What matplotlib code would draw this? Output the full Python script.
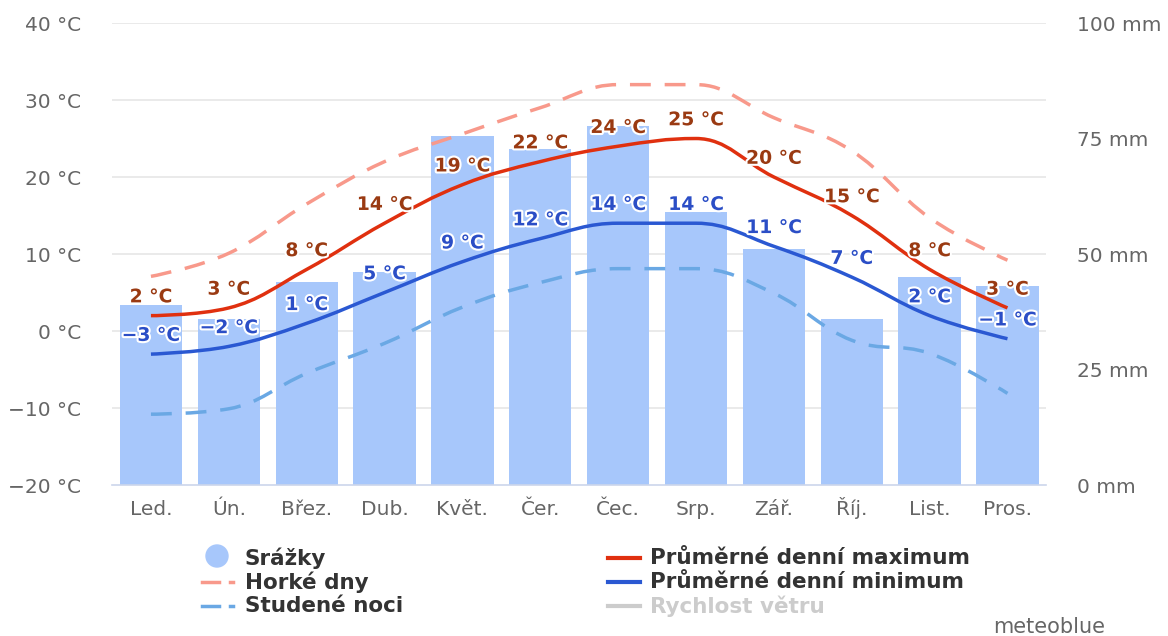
import numpy as np
import matplotlib
matplotlib.use("Agg")
import matplotlib.pyplot as plt
from matplotlib.path import Path
from matplotlib.patches import PathPatch, Ellipse
from matplotlib.lines import Line2D
import matplotlib.patheffects as pe

months = ["Led.", "Ún.", "Břez.", "Dub.", "Květ.", "Čer.", "Čec.", "Srp.", "Zář.", "Říj.", "List.", "Pros."]
precip_mm = [39, 36, 44, 46, 75.5, 72.7, 77.7, 59, 51, 36, 45, 43]
temp_max = [2, 3, 8, 14, 19, 22, 24, 25, 20, 15, 8, 3]
temp_min = [-3, -2, 1, 5, 9, 12, 14, 14, 11, 7, 2, -1]
hot_days = [7.1, 10.1, 16.5, 22.0, 25.6, 29.0, 32.0, 32.0, 27.7, 23.4, 14.7, 9.2]
cold_nights = [-10.8, -10.1, -5.5, -1.6, 3.1, 6.3, 8.1, 8.1, 4.9, -1.2, -2.9, -8.1]
temp_ticks = [-20, -10, 0, 10, 20, 30, 40]
mm_ticks = [0, 25, 50, 75, 100]

C_BAR = "#a7c7fb"
C_MAX = "#e0300f"
C_MIN = "#2a58d2"
C_HOT = "#f8998b"
C_COLD = "#6aa8e4"
C_MAXL = "#9a3a12"
C_MINL = "#2b4ec6"
C_TXT = "#666666"


def spline_path(xs, ys):
    xs = list(map(float, xs)); ys = list(map(float, ys))
    n = len(xs)
    left = [None] * n
    right = [None] * n
    for i in range(n):
        if i == 0 or i == n - 1:
            left[i] = (xs[i], ys[i]); right[i] = (xs[i], ys[i]); continue
        px, py = xs[i], ys[i]
        lx, ly = xs[i - 1], ys[i - 1]
        nx, ny = xs[i + 1], ys[i + 1]
        s, d = 1.5, 2.5
        lcx = (s * px + lx) / d; lcy = (s * py + ly) / d
        rcx = (s * px + nx) / d; rcy = (s * py + ny) / d
        if rcx != lcx:
            corr = ((rcy - lcy) * (rcx - px)) / (rcx - lcx) + py - rcy
            lcy += corr; rcy += corr
        if lcy > ly and lcy > py:
            lcy = max(ly, py); rcy = 2 * py - lcy
        elif lcy < ly and lcy < py:
            lcy = min(ly, py); rcy = 2 * py - lcy
        if rcy > ny and rcy > py:
            rcy = max(ny, py); lcy = 2 * py - rcy
        elif rcy < ny and rcy < py:
            rcy = min(ny, py); lcy = 2 * py - rcy
        left[i] = (lcx, lcy); right[i] = (rcx, rcy)
    verts = [(xs[0], ys[0])]
    codes = [Path.MOVETO]
    for i in range(1, n):
        verts += [right[i - 1], left[i], (xs[i], ys[i])]
        codes += [Path.CURVE4] * 3
    return Path(verts, codes)


fig = plt.figure(figsize=(11.68, 6.36), dpi=100)
ax = fig.add_axes([0.0959, 0.2374, 0.8, 0.7264])
axr = ax.twinx()
ax.set_zorder(2); ax.patch.set_visible(False)
axr.set_zorder(1)

x = np.arange(len(months))
axr.set_ylim(0, 100)
ax.set_ylim(-20, 40)
ax.set_xlim(-0.5, len(months) - 0.5)

# grid lines (temperature ticks) drawn behind bars
for t in temp_ticks[1:]:
    axr.axhline((t - temp_ticks[0]) / (temp_ticks[-1] - temp_ticks[0]) * 100, color="#e6e6e6", lw=1.2, zorder=0)

axr.bar(x, precip_mm, width=0.8, color=C_BAR, zorder=1)

ax.add_patch(PathPatch(spline_path(x, hot_days), fill=False, ec=C_HOT, lw=2.5, ls=(0, (6, 4)), zorder=3))
ax.add_patch(PathPatch(spline_path(x, cold_nights), fill=False, ec=C_COLD, lw=2.5, ls=(0, (6, 4)), zorder=3))
ax.add_patch(PathPatch(spline_path(x, temp_max), fill=False, ec=C_MAX, lw=2.5, zorder=4))
ax.add_patch(PathPatch(spline_path(x, temp_min), fill=False, ec=C_MIN, lw=2.5, zorder=4))

outline = [pe.withStroke(linewidth=3, foreground="white")]
for xi, v in zip(x, temp_max):
    ax.annotate(f"{v} °C".replace("-", "−"), (xi, v), xytext=(0, 13.5), textcoords="offset points",
                ha="center", va="center", color=C_MAXL, fontsize=13.5, fontweight="bold",
                path_effects=outline, zorder=6)
for xi, v in zip(x, temp_min):
    ax.annotate(f"{v} °C".replace("-", "−"), (xi, v), xytext=(0, 13.5), textcoords="offset points",
                ha="center", va="center", color=C_MINL, fontsize=13.5, fontweight="bold",
                path_effects=outline, zorder=6)

ax.set_yticks(temp_ticks)
ax.set_yticklabels([f"{t} °C".replace("-", "−") for t in temp_ticks])
axr.set_yticks(mm_ticks)
axr.set_yticklabels([f"{m} mm" for m in mm_ticks])
ax.set_xticks(x)
ax.set_xticklabels(months, va="baseline")
ax.tick_params(axis="y", length=0, pad=22, labelsize=14.5, labelcolor=C_TXT)
axr.tick_params(axis="y", length=0, pad=22, labelsize=14.5, labelcolor=C_TXT)
ax.tick_params(axis="x", length=0, pad=21.5, labelsize=14.5, labelcolor=C_TXT)
axr.tick_params(axis="x", length=0)
for a in (ax, axr):
    for s in a.spines.values():
        s.set_visible(False)
ax.spines["bottom"].set_visible(True)
ax.spines["bottom"].set_color("#ccd6eb")
ax.spines["bottom"].set_linewidth(1.2)

# legend (manual)
W, H = 1168, 636
def fx(px):
    return px / W
def fy(py):
    return 1 - py / H

lfont = dict(fontsize=15.5, fontweight="bold", va="center", ha="left")
rows = [558, 582, 606]
fig.add_artist(Ellipse((fx(217), fy(rows[0] - 2)), 22 / W, 22 / H, transform=fig.transFigure, color=C_BAR))
for r, c in ((rows[1], C_HOT), (rows[2], C_COLD)):
    fig.add_artist(Line2D([fx(202), fx(219)], [fy(r)] * 2, transform=fig.transFigure, color=c, lw=2.5))
    fig.add_artist(Line2D([fx(230), fx(233)], [fy(r)] * 2, transform=fig.transFigure, color=c, lw=2.5))
fig.text(fx(245), fy(rows[0]), "Srážky", color="#333333", **lfont)
fig.text(fx(245), fy(rows[1]), "Horké dny", color="#333333", **lfont)
fig.text(fx(245), fy(rows[2]), "Studené noci", color="#333333", **lfont)
for r, c in ((rows[0], C_MAX), (rows[1], C_MIN), (rows[2], "#cccccc")):
    fig.add_artist(Line2D([fx(608), fx(640)], [fy(r)] * 2, transform=fig.transFigure, color=c, lw=3))
fig.text(fx(650), fy(rows[0]), "Průměrné denní maximum", color="#333333", **lfont)
fig.text(fx(650), fy(rows[1]), "Průměrné denní minimum", color="#333333", **lfont)
fig.text(fx(650), fy(rows[2]), "Rychlost větru", color="#cccccc", **lfont)

fig.text(fx(1105), fy(627), "meteoblue", color=C_TXT, fontsize=15, ha="right", va="center")

fig.savefig("out.png", dpi=100)
